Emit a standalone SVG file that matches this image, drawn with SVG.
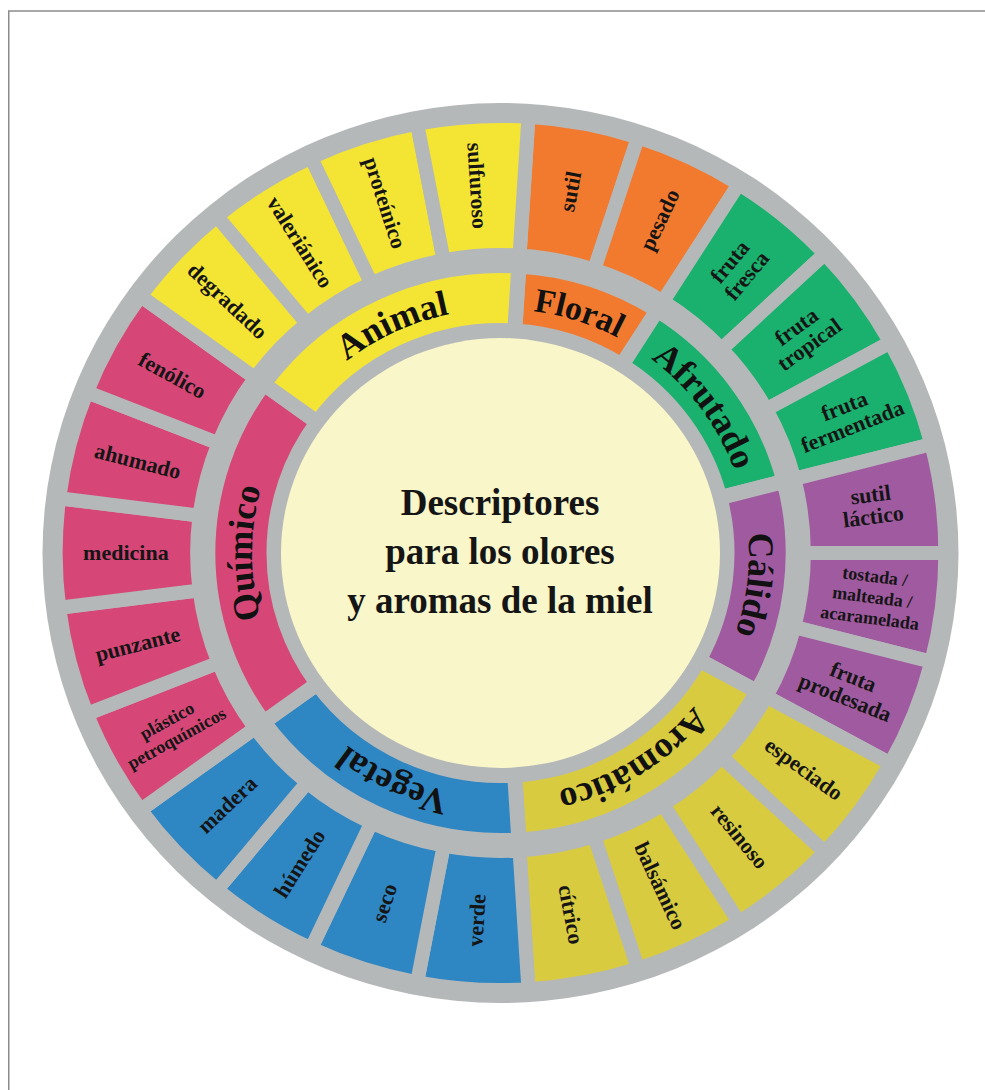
<svg xmlns="http://www.w3.org/2000/svg" width="985" height="1090" viewBox="0 0 985 1090">
<style>
.seg{stroke:#b5b8b9;stroke-width:14;stroke-linejoin:round}
.cat{stroke:#b5b8b9;stroke-width:15;stroke-linejoin:round}
.lbl{font-family:"Liberation Serif",serif;font-weight:bold;font-size:22px;fill:#151515;text-anchor:middle}
.l2{font-size:22px}
.l3{font-size:18px}
.catlbl{font-family:"Liberation Serif",serif;font-weight:bold;font-size:36px;fill:#111;text-anchor:middle}
.title{font-family:"Liberation Serif",serif;font-weight:bold;font-size:37px;fill:#151515;text-anchor:middle}
.or{fill:#f27a2e}.gr{fill:#1ab06e}.pu{fill:#a05aa0}.ol{fill:#d9cb3f}.bl{fill:#2e86c3}.pk{fill:#d64777}.ye{fill:#f4e534}
</style>
<defs>
<path id="catArc" d="M500.5,309 A248.4,244 0 1 1 500.5,797 A248.4,244 0 1 1 500.5,309"/>
</defs>
<rect x="8.75" y="11" width="1000" height="1100" fill="none" stroke="#8c8c8c" stroke-width="1.5"/>
<ellipse id="ring" cx="500.5" cy="553" rx="458" ry="450" fill="#b5b8b9"/>

<g id="outer">
<g id="seg-sutil"><path class="seg or" d="M528.43,116.86 A444.87,437 0 0 1 637.97,137.39 L594.25,269.58 A303.36,298 0 0 0 519.55,255.59 Z"/>
<text class="lbl" transform="translate(570.7,191.5) rotate(-79.2)" y="7">sutil</text></g>
<g id="seg-pesado"><path class="seg or" d="M637.97,137.39 A444.87,437 0 0 1 738.87,184.03 L663.05,301.39 A303.36,298 0 0 0 594.25,269.58 Z"/>
<text class="lbl" transform="translate(660,220) rotate(-64.8)" y="7">pesado</text></g>
<g id="seg-fruta-fresca"><path class="seg gr" d="M738.87,184.03 A444.87,437 0 0 1 824.79,253.85 L721.64,349.01 A303.36,298 0 0 0 663.05,301.39 Z"/>
<text class="lbl l2" transform="translate(739.3,269.5) rotate(-50.4)"><tspan x="0" y="-5">fruta</tspan><tspan x="0" y="17">fresca</tspan></text></g>
<g id="seg-fruta-tropical"><path class="seg gr" d="M824.79,253.85 A444.87,437 0 0 1 890.34,342.47 L766.34,409.44 A303.36,298 0 0 0 721.64,349.01 Z"/>
<text class="lbl l2" transform="translate(803.6,336.7) rotate(-36)"><tspan x="0" y="-5">fruta</tspan><tspan x="0" y="17">tropical</tspan></text></g>
<g id="seg-fruta-fermentada"><path class="seg gr" d="M890.34,342.47 A444.87,437 0 0 1 931.39,444.32 L794.34,478.89 A303.36,298 0 0 0 766.34,409.44 Z"/>
<text class="lbl l2" transform="translate(848.8,417.5) rotate(-21.6)"><tspan x="0" y="-5">fruta</tspan><tspan x="0" y="17">fermentada</tspan></text></g>
<g id="seg-sutil-lactico"><path class="seg pu" d="M931.39,444.32 A444.87,437 0 0 1 945.37,553 L803.86,553 A303.36,298 0 0 0 794.34,478.89 Z"/>
<text class="lbl l2" transform="translate(872.1,506.9) rotate(-7.2)"><tspan x="0" y="-5">sutil</tspan><tspan x="0" y="17">láctico</tspan></text></g>
<g id="seg-tostada"><path class="seg pu" d="M945.37,553 A444.87,437 0 0 1 931.39,661.68 L794.34,627.11 A303.36,298 0 0 0 803.86,553 Z"/>
<text class="lbl l3" transform="translate(872.1,599.1) rotate(7.2)"><tspan x="0" y="-17">tostada /</tspan><tspan x="0" y="4">malteada /</tspan><tspan x="0" y="25">acaramelada</tspan></text></g>
<g id="seg-fruta-prodesada"><path class="seg pu" d="M931.39,661.68 A444.87,437 0 0 1 890.34,763.53 L766.34,696.56 A303.36,298 0 0 0 794.34,627.11 Z"/>
<text class="lbl l2" transform="translate(848.8,688.5) rotate(21.6)"><tspan x="0" y="-5">fruta</tspan><tspan x="0" y="17">prodesada</tspan></text></g>
<g id="seg-especiado"><path class="seg ol" d="M890.34,763.53 A444.87,437 0 0 1 824.79,852.15 L721.64,756.99 A303.36,298 0 0 0 766.34,696.56 Z"/>
<text class="lbl" transform="translate(803.6,769.3) rotate(36)" y="7">especiado</text></g>
<g id="seg-resinoso"><path class="seg ol" d="M824.79,852.15 A444.87,437 0 0 1 738.87,921.97 L663.05,804.61 A303.36,298 0 0 0 721.64,756.99 Z"/>
<text class="lbl" transform="translate(739.3,836.5) rotate(50.4)" y="7">resinoso</text></g>
<g id="seg-balsamico"><path class="seg ol" d="M738.87,921.97 A444.87,437 0 0 1 637.97,968.61 L594.25,836.42 A303.36,298 0 0 0 663.05,804.61 Z"/>
<text class="lbl" transform="translate(660,886) rotate(64.8)" y="7">balsámico</text></g>
<g id="seg-citrico"><path class="seg ol" d="M637.97,968.61 A444.87,437 0 0 1 528.43,989.14 L519.55,850.41 A303.36,298 0 0 0 594.25,836.42 Z"/>
<text class="lbl" transform="translate(570.7,914.5) rotate(79.2)" y="7">cítrico</text></g>
<g id="seg-verde"><path class="seg bl" d="M528.43,989.14 A444.87,437 0 0 1 417.14,982.26 L443.65,845.72 A303.36,298 0 0 0 519.55,850.41 Z"/>
<text class="lbl" transform="translate(477,920.3) rotate(-86.4)" y="7">verde</text></g>
<g id="seg-seco"><path class="seg bl" d="M417.14,982.26 A444.87,437 0 0 1 311.08,948.41 L371.34,822.64 A303.36,298 0 0 0 443.65,845.72 Z"/>
<text class="lbl" transform="translate(384.7,903) rotate(-72)" y="7">seco</text></g>
<g id="seg-humedo"><path class="seg bl" d="M311.08,948.41 A444.87,437 0 0 1 216.94,889.71 L307.13,782.61 A303.36,298 0 0 0 371.34,822.64 Z"/>
<text class="lbl" transform="translate(299.8,863.7) rotate(-57.6)" y="7">húmedo</text></g>
<g id="seg-madera"><path class="seg bl" d="M216.94,889.71 A444.87,437 0 0 1 140.6,809.86 L255.07,728.16 A303.36,298 0 0 0 307.13,782.61 Z"/>
<text class="lbl" transform="translate(227.4,804.9) rotate(-43.2)" y="7">madera</text></g>
<g id="seg-plastico"><path class="seg pk" d="M140.6,809.86 A444.87,437 0 0 1 86.88,713.87 L218.44,662.7 A303.36,298 0 0 0 255.07,728.16 Z"/>
<text class="lbl l3" transform="translate(172.2,730.3) rotate(-28.8)"><tspan x="0" y="-5">plástico</tspan><tspan x="0" y="15">petroquímicos</tspan></text></g>
<g id="seg-punzante"><path class="seg pk" d="M86.88,713.87 A444.87,437 0 0 1 59.15,607.77 L199.53,590.35 A303.36,298 0 0 0 218.44,662.7 Z"/>
<text class="lbl" transform="translate(137.7,644.5) rotate(-14.4)" y="7">punzante</text></g>
<g id="seg-medicina"><path class="seg pk" d="M59.15,607.77 A444.87,437 0 0 1 59.15,498.23 L199.53,515.65 A303.36,298 0 0 0 199.53,590.35 Z"/>
<text class="lbl" transform="translate(125.9,553)" y="7">medicina</text></g>
<g id="seg-ahumado"><path class="seg pk" d="M59.15,498.23 A444.87,437 0 0 1 86.88,392.13 L218.44,443.3 A303.36,298 0 0 0 199.53,515.65 Z"/>
<text class="lbl" transform="translate(137.7,461.5) rotate(14.4)" y="7">ahumado</text></g>
<g id="seg-fenolico"><path class="seg pk" d="M86.88,392.13 A444.87,437 0 0 1 140.6,296.14 L255.07,377.84 A303.36,298 0 0 0 218.44,443.3 Z"/>
<text class="lbl" transform="translate(172.2,375.7) rotate(28.8)" y="7">fenólico</text></g>
<g id="seg-degradado"><path class="seg ye" d="M140.6,296.14 A444.87,437 0 0 1 216.94,216.29 L307.13,323.39 A303.36,298 0 0 0 255.07,377.84 Z"/>
<text class="lbl" transform="translate(227.4,301.1) rotate(43.2)" y="7">degradado</text></g>
<g id="seg-valerianico"><path class="seg ye" d="M216.94,216.29 A444.87,437 0 0 1 311.08,157.59 L371.34,283.36 A303.36,298 0 0 0 307.13,323.39 Z"/>
<text class="lbl" transform="translate(299.8,242.3) rotate(57.6)" y="7">valeriánico</text></g>
<g id="seg-proteinico"><path class="seg ye" d="M311.08,157.59 A444.87,437 0 0 1 417.14,123.74 L443.65,260.28 A303.36,298 0 0 0 371.34,283.36 Z"/>
<text class="lbl" transform="translate(384.7,203) rotate(72)" y="7">proteínico</text></g>
<g id="seg-sulfuroso"><path class="seg ye" d="M417.14,123.74 A444.87,437 0 0 1 528.43,116.86 L519.55,255.59 A303.36,298 0 0 0 443.65,260.28 Z"/>
<text class="lbl" transform="translate(477,185.7) rotate(86.4)" y="7">sulfuroso</text></g>
</g>

<g id="inner">
<g id="cat-floral"><path class="cat or" d="M518.87,266.07 A292.68,287.5 0 0 1 657.32,310.26 L621.87,365.14 A226.51,222.5 0 0 0 514.72,330.94 Z"/>
<text class="catlbl" style="font-size:34px"><textPath href="#catArc" startOffset="5%">Floral</textPath></text></g>
<g id="cat-afrutado"><path class="cat gr" d="M657.32,310.26 A292.68,287.5 0 0 1 783.98,481.5 L719.89,497.67 A226.51,222.5 0 0 0 621.87,365.14 Z"/>
<text class="catlbl"><textPath href="#catArc" startOffset="15%">Afrutado</textPath></text></g>
<g id="cat-calido"><path class="cat pu" d="M783.98,481.5 A292.68,287.5 0 0 1 756.97,691.5 L698.99,660.19 A226.51,222.5 0 0 0 719.89,497.67 Z"/>
<text class="catlbl"><textPath href="#catArc" startOffset="27%">Cálido</textPath></text></g>
<g id="cat-aromatico"><path class="cat ol" d="M756.97,691.5 A292.68,287.5 0 0 1 518.87,839.93 L514.72,775.06 A226.51,222.5 0 0 0 698.99,660.19 Z"/>
<text class="catlbl"><textPath href="#catArc" startOffset="41%">Aromático</textPath></text></g>
<g id="cat-vegetal"><path class="cat bl" d="M518.87,839.93 A292.68,287.5 0 0 1 263.72,721.99 L317.25,683.78 A226.51,222.5 0 0 0 514.72,775.06 Z"/>
<text class="catlbl"><textPath href="#catArc" startOffset="57%">Vegetal</textPath></text></g>
<g id="cat-quimico"><path class="cat pk" d="M263.72,721.99 A292.68,287.5 0 0 1 263.72,384.01 L317.25,422.22 A226.51,222.5 0 0 0 317.25,683.78 Z"/>
<text class="catlbl"><textPath href="#catArc" startOffset="75%">Químico</textPath></text></g>
<g id="cat-animal"><path class="cat ye" d="M263.72,384.01 A292.68,287.5 0 0 1 518.87,266.07 L514.72,330.94 A226.51,222.5 0 0 0 317.25,422.22 Z"/>
<text class="catlbl"><textPath href="#catArc" startOffset="93%">Animal</textPath></text></g>
</g>

<g id="center">
<ellipse cx="500.5" cy="553" rx="219.5" ry="215" fill="#f9f6c9"/>
<text class="title" x="500" y="515">Descriptores</text>
<text class="title" x="500" y="564">para los olores</text>
<text class="title" x="500" y="613">y aromas de la miel</text>
</g>
</svg>
